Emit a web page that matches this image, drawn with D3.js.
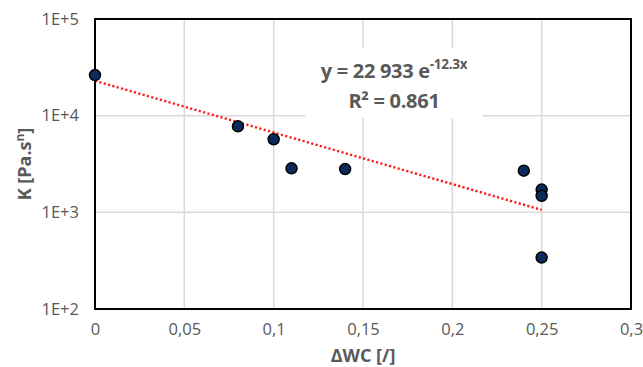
<!DOCTYPE html>
<html>
<head>
<meta charset="utf-8">
<script src="https://cdn.jsdelivr.net/npm/d3@7"></script>
<style>
  body { margin: 0; background: #fff; }
  text { font-family: "Open Sans", "Liberation Sans", sans-serif; }
</style>
</head>
<body>
<svg id="chart" width="643" height="367"></svg>
<script>
// measured points
const dwc = [0, 0.08, 0.1, 0.11, 0.14, 0.24, 0.25, 0.25, 0.25];
const kValues = [26300, 7750, 5700, 2850, 2800, 2700, 1720, 1480, 340];

const xTicks = [0, 0.05, 0.1, 0.15, 0.2, 0.25, 0.3];
const yTicks = [100, 1000, 10000, 100000];
const yTickLabels = ['1E+2', '1E+3', '1E+4', '1E+5'];

// fitted trendline y = a e^(b x)
const fitA = 22933;
const fitB = -12.3;
const fitRange = [0, 0.25];

const svg = d3.select('#chart');
const margin = { left: 95, right: 12, top: 19, bottom: 58 };
const width = 643 - margin.left - margin.right;
const height = 367 - margin.top - margin.bottom;

const x = d3.scaleLinear().domain([0, 0.3]).range([margin.left, margin.left + width]);
const y = d3.scaleLog().domain([100, 100000]).range([margin.top + height, margin.top]);

const fmtX = (d) => String(d).replace('.', ',');

// gridlines
const grid = svg.append('g').attr('stroke', '#d9d9d9').attr('stroke-width', 1.5);
grid.selectAll('line.v')
  .data(xTicks.slice(1, -1))
  .enter()
  .append('line')
  .attr('x1', (d) => x(d)).attr('x2', (d) => x(d))
  .attr('y1', margin.top).attr('y2', margin.top + height);
grid.selectAll('line.h')
  .data(yTicks.slice(1, -1))
  .enter()
  .append('line')
  .attr('x1', margin.left).attr('x2', margin.left + width)
  .attr('y1', (d) => y(d)).attr('y2', (d) => y(d));

// tick labels via axes (no domain / tick lines)
const xAxis = svg.append('g')
  .attr('transform', `translate(0,${margin.top + height})`)
  .call(d3.axisBottom(x).tickValues(xTicks).tickFormat(fmtX).tickSize(0).tickPadding(14));
const yAxis = svg.append('g')
  .attr('transform', `translate(${margin.left},0)`)
  .call(d3.axisLeft(y).tickValues(yTicks).tickFormat((d, i) => yTickLabels[i]).tickSize(0).tickPadding(16));
[xAxis, yAxis].forEach((g) => {
  g.select('.domain').remove();
  g.selectAll('text')
    .attr('fill', '#595959')
    .style('font-size', '16.5px')
    .style('font-family', '"Open Sans", sans-serif');
});

// trendline
const fitXs = d3.range(fitRange[0], fitRange[1] + 0.0001, 0.005);
svg.append('path')
  .datum(fitXs)
  .attr('fill', 'none')
  .attr('stroke', '#ff1a1a')
  .attr('stroke-width', 2.4)
  .attr('stroke-dasharray', '2.2 2.3')
  .attr('d', d3.line().x((d) => x(d)).y((d) => y(fitA * Math.exp(fitB * d))));

// equation box (covers gridlines)
svg.append('rect')
  .attr('x', 305).attr('y', 48)
  .attr('width', 178).attr('height', 70)
  .attr('fill', '#fff');

const eq = svg.append('text')
  .attr('x', 394).attr('y', 78)
  .attr('text-anchor', 'middle')
  .attr('fill', '#595959')
  .style('font-size', '20px')
  .style('font-weight', 'bold')
  .style('letter-spacing', '-0.3px');
eq.append('tspan').text('y = 22 933 e');
eq.append('tspan').attr('dy', -9).style('font-size', '13.5px').text('-12.3x');

svg.append('text')
  .attr('x', 394).attr('y', 108)
  .attr('text-anchor', 'middle')
  .attr('fill', '#595959')
  .style('font-size', '20px')
  .style('font-weight', 'bold')
  .style('letter-spacing', '-0.3px')
  .text('R² = 0.861');

// plot border
svg.append('rect')
  .attr('x', margin.left).attr('y', margin.top)
  .attr('width', width).attr('height', height)
  .attr('fill', 'none')
  .attr('stroke', '#000')
  .attr('stroke-width', 2);

// markers
svg.append('g')
  .selectAll('circle')
  .data(dwc.map((d, i) => [d, kValues[i]]))
  .enter()
  .append('circle')
  .attr('cx', (d) => x(d[0]))
  .attr('cy', (d) => y(d[1]))
  .attr('r', 5.5)
  .attr('fill', '#0c2a5e')
  .attr('stroke', '#000')
  .attr('stroke-width', 1.5);

// axis titles
svg.append('text')
  .attr('x', x(0.15)).attr('y', 362)
  .attr('text-anchor', 'middle')
  .attr('fill', '#595959')
  .style('font-size', '18px')
  .style('font-weight', 'bold')
  .text('ΔWC [/]');

const yTitle = svg.append('text')
  .attr('transform', `translate(31,${margin.top + height / 2}) rotate(-90)`)
  .attr('text-anchor', 'middle')
  .attr('fill', '#595959')
  .style('font-size', '18px')
  .style('font-weight', 'bold');
yTitle.append('tspan').text('K [Pa.s');
yTitle.append('tspan').attr('dy', -7).style('font-size', '12px').text('n');
yTitle.append('tspan').attr('dy', 7).text(']');
</script>
</body>
</html>
